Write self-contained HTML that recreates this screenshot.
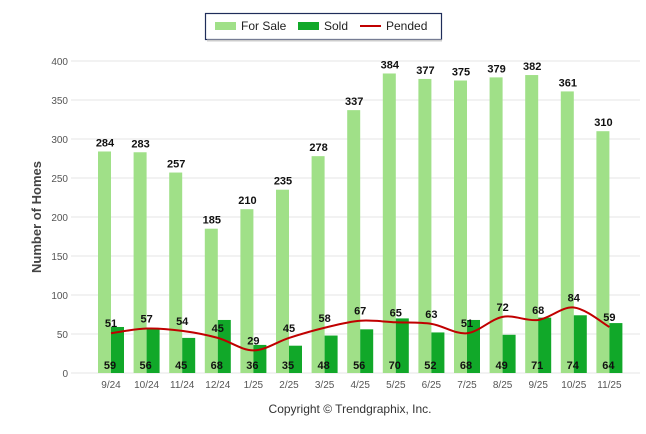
<!DOCTYPE html>
<html><head><meta charset="utf-8"><style>
body{margin:0;background:#fff;font-family:"Liberation Sans",Arial,sans-serif}
svg{display:block}
</style></head><body>
<svg id="c" width="646" height="434">
<g>
<rect x="205.5" y="13.5" width="236" height="26" fill="#fff" stroke="#1f2d5a" stroke-width="1.2"/>
<line x1="207" y1="40.5" x2="442" y2="40.5" stroke="#ccc" stroke-width="2"/>
<rect x="215" y="22" width="21" height="8" fill="#a0e088"/>
<text x="241" y="30" font-size="12" fill="#222">For Sale</text>
<rect x="298" y="22" width="21" height="8" fill="#11a829"/>
<text x="324" y="30" font-size="12" fill="#222">Sold</text>
<line x1="360" y1="26" x2="381" y2="26" stroke="#c00000" stroke-width="2"/>
<text x="386" y="30" font-size="12" fill="#222">Pended</text>
</g>
<text transform="translate(41,217) rotate(-90)" text-anchor="middle" font-size="13" font-weight="bold" fill="#444">Number of Homes</text>
<g id="grid"></g><g id="bars"></g><g id="line"></g><g id="labels"></g>
<text x="350" y="413" text-anchor="middle" font-size="12" fill="#333">Copyright © Trendgraphix, Inc.</text>
</svg>
<script>
const categories=["9/24","10/24","11/24","12/24","1/25","2/25","3/25","4/25","5/25","6/25","7/25","8/25","9/25","10/25","11/25"];
const forSale=[284,283,257,185,210,235,278,337,384,377,375,379,382,361,310];
const sold=[59,56,45,68,36,35,48,56,70,52,68,49,71,74,64];
const pended=[51,57,54,45,29,45,58,67,65,63,51,72,68,84,59];
const yTicks=[0,50,100,150,200,250,300,350,400];
const NS="http://www.w3.org/2000/svg";
const y=v=>373-v*0.78;
const x=i=>111+i*35.6;
function mk(p,t,a){const e=document.createElementNS(NS,t);for(const k in a)e.setAttribute(k,a[k]);document.getElementById(p).appendChild(e);return e;}
yTicks.forEach(t=>{
 const l=mk("grid","line",{x1:71,x2:640,y1:y(t),y2:y(t),stroke:"#e6e6e6","stroke-width":1});
 
 
 const tx=mk("grid","text",{x:68,y:y(t)+4,"text-anchor":"end","font-size":"10",fill:"#555"});
 tx.textContent=t;
 
 
});
categories.forEach((c,i)=>{
 const b1=mk("bars","rect",{x:x(i)-13,y:y(forSale[i]),width:13,height:forSale[i]*0.78,fill:"#a0e088"});
 
 
 const b2=mk("bars","rect",{x:x(i),y:y(sold[i]),width:13,height:sold[i]*0.78,fill:"#11a829"});
 
 
 const t=mk("labels","text",{x:x(i)-6,y:y(forSale[i])-5,"text-anchor":"middle","font-size":"11","font-weight":"bold",fill:"#111"});
 t.textContent=forSale[i];
 
 
 const s=mk("labels","text",{x:x(i)-1,y:369,"text-anchor":"middle","font-size":"11","font-weight":"bold",fill:"#111"});
 s.textContent=sold[i];
 
 
 const p=mk("labels","text",{x:x(i),y:y(pended[i])-6,"text-anchor":"middle","font-size":"11","font-weight":"bold",fill:"#111"});
 p.textContent=pended[i];
 
 
 const xl=mk("labels","text",{x:x(i),y:388,"text-anchor":"middle","font-size":"10",fill:"#555"});
 xl.textContent=c;
 
 
});
const pts=pended.map((v,i)=>[x(i),y(v)]);
let d="M"+pts[0][0]+","+pts[0][1];
for(let i=0;i<pts.length-1;i++){
 const p0=pts[i-1]||pts[i],p1=pts[i],p2=pts[i+1],p3=pts[i+2]||p2;
 const c1=[p1[0]+(p2[0]-p0[0])/6,p1[1]+(p2[1]-p0[1])/6];
 const c2=[p2[0]-(p3[0]-p1[0])/6,p2[1]-(p3[1]-p1[1])/6];
 d+=`C${c1[0]},${c1[1]} ${c2[0]},${c2[1]} ${p2[0]},${p2[1]}`;
}
const ln=mk("line","path",{d:d,fill:"none",stroke:"#c00000","stroke-width":2});


</script>
</body></html>
